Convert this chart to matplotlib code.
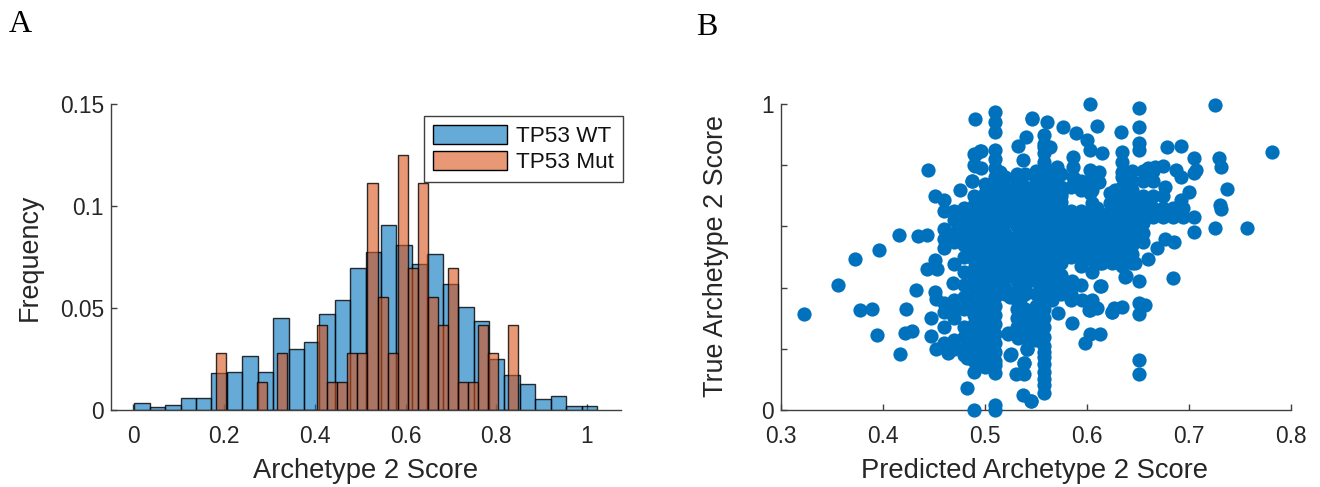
import matplotlib
matplotlib.use("Agg")
import matplotlib.pyplot as plt
from matplotlib.patches import Patch

plt.rcParams['font.family'] = ['Liberation Sans', 'DejaVu Sans']

wt_start = 0.002
wt_width = 0.034
wt_freq = [.0036,.0016,.0026,.006,.006,.018,.0188,.0265,.0188,.045,.030,.0333,.047,.0537,.0698,
           .0773,.0908,.0807,.0716,.0765,.062,.0503,.0435,.0248,.0172,.0129,.0052,.007,.0018,.0018]
mut_start = 0.183
mut_width = 0.0222
mut_freq = [.0278,0,0,0,.0139,0,.0278,0,0,0,.0417,.0139,.0139,.0278,.0278,.1111,.0556,.0278,.125,
            .0694,.1111,.0556,.0417,.0694,.0139,.0139,.0417,.0278,0,.0417]

outer_x = [.323,.356,.3735,.397,.3775,.390,.395,.416,.423,.433,.4225,.429,.417,.445,.435,.4435,.451,.46,.476,.488,
           .4905,.51,.51,.491,.496,.491,.533,.541,.547,.538,.451,.4435,.453,.47,.469,.451,.452,.448,.448,.452,.464,
           .483,.4895,.51,.51,.4895,.51,.51,.531,.539,.539,.538,.5455,.526,
           .603,.651,.726,.782,.651,.61,.634,.577,.59,.6,.603,.615,.651,.651,.679,.693,.705,.73,.732,.707,.705,.738,
           .731,.732,.726,.757,.705,.705,.7,.693,.6875,.693,.675,.667,.66,.677,.685,.686,.677,.669,.66,.651,.6385,.648,
           .614,.651,.6575,.651,.635,.6265,.625,.603,.61,.586,.5725,.603,.613,.599,.651,.651,.558,.558,.546,.558,.558,.561,.547,
           .523,.533,.5415,.558,.558,.558,.51,
           .497,.49,.49,.497,.515,.488,.558,.564,.571,.5867,.5867,.5867,.6347,.6347,.6347,.6037,.612,.6037,.612,.6037,
           .623,.623,.6135,.6288,.638,.6135,.625,.602,.5955,.5857,.5857,.5775,.5383,.542,.5226,.4827,.5023,.525,
           .575,.575,.575,.575,.6,.61,.62,.6,.61,.628,.628,.525,.535]
outer_y = [.313,.408,.493,.522,.327,.329,.245,.573,.329,.393,.253,.259,.182,.785,.567,.572,.698,.686,.719,.749,
           .95,.974,.91,.833,.847,.797,.864,.893,.95,.817,.49,.461,.461,.477,.416,.387,.362,.301,.243,.2,.185,
           .071,.001,.016,0,.125,.12,.147,.118,.118,.153,.049,.029,.182,
           1.0,.986,.996,.843,.926,.929,.91,.924,.906,.882,.85,.839,.871,.85,.861,.864,.825,.825,.793,.784,.773,.721,
           .67,.656,.596,.595,.583,.632,.711,.686,.784,.763,.797,.795,.79,.728,.43,.548,.559,.528,.493,.423,.438,.479,
           .405,.349,.343,.314,.338,.332,.319,.327,.334,.285,.318,.25,.247,.22,.163,.118,.082,.057,.029,.125,.174,.942,.953,
           .25,.234,.2,.19,.15,.1,.94,
           .847,.836,.8,.79,.779,.748,.86,.86,.795,.828,.795,.763,.844,.811,.779,.784,.779,.752,.746,.708,
           .708,.675,.405,.485,.436,.479,.321,.327,.3595,.365,.42,.414,.152,.2,.253,.169,.163,.18,
           .71,.70,.66,.62,.64,.66,.64,.60,.62,.72,.69,.37,.36]

column_x = [.46,.47,.48,.49,.50,.51,.52,.532,.54,.55,.558,.566,.575,.585,.595,.605,.615,.625,.635,.645,.655,.665,.675,.685,.695]
column_y = [
 [.65,.59,.56,.53,.35,.32,.27,.22],
 [.65,.62,.58,.55,.36,.33,.30,.23,.20],
 [.66,.63,.6,.57,.54,.5,.45,.41,.37,.33,.27,.24,.2,.18],
 [.7,.67,.64,.61,.58,.55,.52,.49,.46,.43,.40,.37,.34,.31,.28,.25,.22,.19,.16],
 [.74,.71,.68,.65,.62,.59,.56,.53,.5,.47,.44,.41,.38,.35,.32,.29,.26,.23,.2,.17,.14],
 [.85,.82,.79,.76,.73,.70,.67,.64,.61,.58,.55,.52,.49,.46,.43,.40,.37,.34,.31,.28,.25,.22,.19,.16],
 [.76,.73,.70,.67,.64,.61,.58,.55,.52,.49,.46,.43,.40,.38],
 [.77,.75,.72,.69,.66,.63,.60,.57,.54,.51,.48,.45,.42,.39,.36,.33,.30,.27],
 [.77,.73,.70,.67,.64,.61,.58,.55,.52,.49,.46,.43,.40,.38,.33,.30,.27,.24],
 [.78,.75,.72,.69,.66,.63,.60,.57,.54,.51,.48,.45,.42,.38,.34,.31,.28,.25,.23],
 [.9,.87,.84,.81,.78,.75,.72,.69,.66,.63,.60,.57,.54,.51,.48,.45,.42,.39,.36,.33,.30,.27,.24,.21],
 [.78,.75,.72,.69,.66,.63,.60,.57,.54,.51,.48,.45,.42,.39,.36],
 [.77,.73,.68,.64,.6,.57,.54,.51,.48,.44,.41,.38],
 [.73,.65,.62,.59,.56,.53,.50,.41,.38,.36],
 [.75,.72,.65,.62,.59,.56,.53,.50,.47,.41],
 [.72,.675,.64,.61,.58,.55,.52,.49,.45,.36],
 [.60,.57,.54,.51,.48],
 [.66,.63,.60,.57,.54,.51,.48],
 [.76,.73,.70,.67,.64,.61,.58,.55,.52,.49,.47],
 [.78,.75,.72,.69,.66,.63,.60,.57,.54,.51,.48],
 [.78,.75,.70,.67,.64,.61,.58,.55],
 [.78,.75,.70,.66,.63],
 [.70,.66,.63],
 [.66,.63],
 [.66,.63],
]

fig = plt.figure(figsize=(13.2, 4.87), dpi=100)
W, H = 1320, 487
ink = '#404040'
text_ink = '#262626'

def axes_box(l, r, t, b):
    return fig.add_axes([l/W, 1-b/H, (r-l)/W, (b-t)/H])

def dress(ax):
    for s in ('top', 'right'):
        ax.spines[s].set_visible(False)
    for s in ('left', 'bottom'):
        ax.spines[s].set_color(ink)
        ax.spines[s].set_linewidth(1.0)
    ax.tick_params(direction='in', length=4.5, width=1.0, color=ink, labelcolor=text_ink, labelsize=16.4)
    ax.tick_params(axis='x', pad=11)
    ax.tick_params(axis='y', pad=5)

def labels(ax, xtext, ytext, xc, xy, yx, yc, box):
    l, r, t, b = box
    ax.set_xlabel(xtext, fontsize=19.7, color=text_ink, va='center')
    ax.set_ylabel(ytext, fontsize=19.4, color=text_ink, va='center')
    ax.xaxis.set_label_coords((xc-l)/(r-l), (b-xy)/(b-t))
    ax.yaxis.set_label_coords((yx-l)/(r-l), (b-yc)/(b-t))

box1 = (110.7, 621, 104, 410)
ax1 = axes_box(*box1)
wt_x = [wt_start + i*wt_width for i in range(len(wt_freq))]
mut_x = [mut_start + i*mut_width for i in range(len(mut_freq))]
ax1.bar(wt_x, wt_freq, width=wt_width, align='edge', color=(0, .447, .741, .6), edgecolor=(0, 0, 0, .8), linewidth=1.0)
ax1.bar(mut_x, mut_freq, width=mut_width, align='edge', color=(.851, .325, .098, .6), edgecolor=(0, 0, 0, .8), linewidth=1.0)
ax1.set_xlim(-0.05, 1.075)
ax1.set_ylim(0, 0.15)
ax1.set_xticks([0, .2, .4, .6, .8, 1], ['0', '0.2', '0.4', '0.6', '0.8', '1'])
ax1.set_yticks([0, .05, .1, .15], ['0', '0.05', '0.1', '0.15'])
ax1.set_axisbelow(True)
dress(ax1)
labels(ax1, 'Archetype 2 Score', 'Frequency', 365.5, 471.5, 30, 257, box1)
handles = [Patch(facecolor=(0, .447, .741, .6), edgecolor='k', label='TP53 WT'),
           Patch(facecolor=(.851, .325, .098, .6), edgecolor='k', label='TP53 Mut')]
leg = ax1.legend(handles=handles, loc='upper left', bbox_to_anchor=((424-110.7)/510.3, 1-(116-104)/306),
                 borderaxespad=0, fontsize=16.2, handlelength=3.3, handleheight=.93, labelspacing=.16,
                 handletextpad=.38, borderpad=.4, fancybox=False, framealpha=1, edgecolor=ink)
leg.get_frame().set_linewidth(1.0)
for t in leg.get_texts():
    t.set_color('#111111')

box2 = (780.5, 1290.5, 104, 410)
ax2 = axes_box(*box2)
ax2.scatter(outer_x, outer_y, s=105, color='#0072BD', linewidths=0, clip_on=False, zorder=3)
for cx, ys in zip(column_x, column_y):
    ax2.scatter([cx]*len(ys), ys, s=105, color='#0072BD', linewidths=0, clip_on=False, zorder=3)
ax2.set_xlim(.3, .8)
ax2.set_ylim(0, 1)
ax2.set_xticks([.3, .4, .5, .6, .7, .8], ['0.3', '0.4', '0.5', '0.6', '0.7', '0.8'])
ax2.set_yticks([0, .2, .4, .6, .8, 1], ['0', '', '', '', '', '1'])
dress(ax2)
labels(ax2, 'Predicted Archetype 2 Score', 'True Archetype 2 Score', 1034.5, 471.5, 716, 256, box2)

fig.text(9/W, 1-32/H, 'A', family='Liberation Serif', fontsize=23, color='k')
fig.text(696/W, 1-35/H, 'B', family='Liberation Serif', fontsize=23, color='k')
fig.savefig('out.png', dpi=100)
